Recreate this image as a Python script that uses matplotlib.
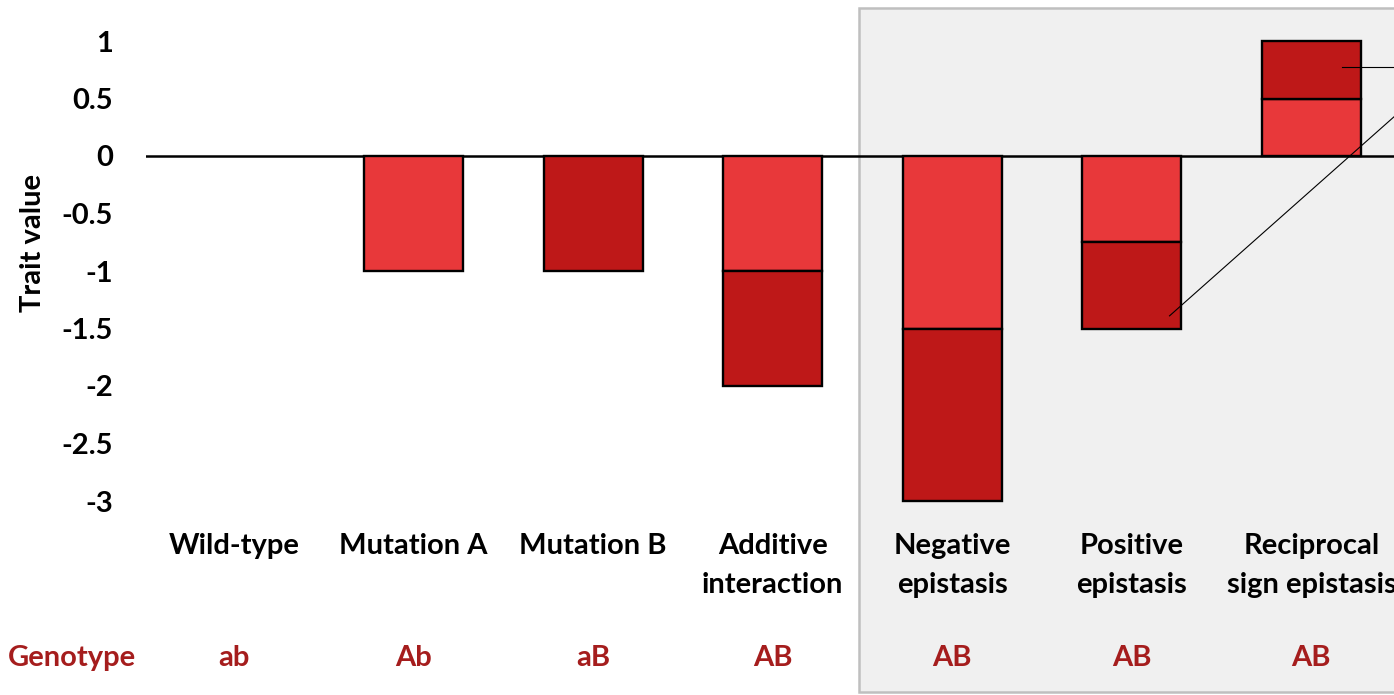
import numpy as np
import matplotlib
matplotlib.use('Agg')
import matplotlib.pyplot as plt
import matplotlib.transforms as mtransforms
from matplotlib.patches import Rectangle

plt.rcParams['font.family'] = ['Lato', 'DejaVu Sans']
plt.rcParams['font.weight'] = 'bold'

categories = ['Wild-type', 'Mutation A', 'Mutation B',
              'Additive\ninteraction', 'Negative\nepistasis',
              'Positive\nepistasis', 'Reciprocal\nsign epistasis']
genotypes  = ['ab', 'Ab', 'aB', 'AB', 'AB', 'AB', 'AB']
# contribution of each mutation to the trait, stacked A then B
effect_a   = [0, -1, 0, -1, -1.5, -0.75, 0.5]
effect_b   = [0, 0, -1, -1, -1.5, -0.75, 0.5]
y_ticks    = [1, 0.5, 0, -0.5, -1, -1.5, -2, -2.5, -3]

LIGHT    = '#E8383A'
DARK     = '#BE1818'
GENO_CLR = '#A51D1D'
BAR_W    = 0.55
FS       = 21

fig = plt.figure(figsize=(13.94, 6.95), dpi=100)
ax  = fig.add_axes([146/1394, 194/695, 1 - 146/1394, 460/695])
ax.patch.set_visible(False)

x  = np.arange(len(categories))
ea = np.array(effect_a, dtype=float)
eb = np.array(effect_b, dtype=float)
ma = ea != 0
mb = eb != 0
ax.bar(x[ma], ea[ma], width=BAR_W, color=LIGHT,
       edgecolor='black', linewidth=1.7, zorder=3, clip_on=False)
ax.bar(x[mb], eb[mb], bottom=ea[mb], width=BAR_W, color=DARK,
       edgecolor='black', linewidth=1.7, zorder=3, clip_on=False)
ax.axhline(0, color='black', linewidth=1.8, zorder=2)

ax.set_xlim(-0.49, 6.46)
ax.set_ylim(-3, 1)
for s in ax.spines.values():
    s.set_visible(False)
ax.set_yticks(y_ticks)
ax.set_yticklabels([f'{v:g}' for v in y_ticks], fontsize=FS,
                   fontweight='bold')
ax.tick_params(axis='y', length=0, pad=24)
ax.set_xticks(x)
ax.set_xticklabels(categories, fontsize=FS, fontweight='bold',
                   linespacing=1.6)
ax.tick_params(axis='x', length=0, pad=23)
fig.text(33/1394, (695-243)/695, 'Trait value', rotation=90,
         ha='center', va='center', fontsize=FS, fontweight='bold')

# genotype row under the category names
geno_tf = mtransforms.blended_transform_factory(ax.transData,
                                                fig.transFigure)
for xi, g in zip(x, genotypes):
    ax.text(xi, 0.053, g, transform=geno_tf, ha='center',
            va='center', fontsize=FS, fontweight='bold',
            color=GENO_CLR)
fig.text(72/1394, 0.053, 'Genotype', ha='center', va='center',
         fontsize=FS, fontweight='bold', color=GENO_CLR)

# shaded panel around the epistasis cases
panel = Rectangle((3.48, 0.0045), 4, 0.984, transform=geno_tf,
                  facecolor='#F0F0F0', edgecolor='#BFBFBF',
                  linewidth=1.8, zorder=-1)
fig.add_artist(panel)

# leader lines to the dark segments
ax.plot([6.17, 7.0], [0.777, 0.777], color='black', linewidth=0.8,
        zorder=4, clip_on=False)
ax.plot([5.21, 6.9], [-1.39, 0.95], color='black', linewidth=0.8,
        zorder=4, clip_on=False)

fig.savefig('out.png', dpi=100)
